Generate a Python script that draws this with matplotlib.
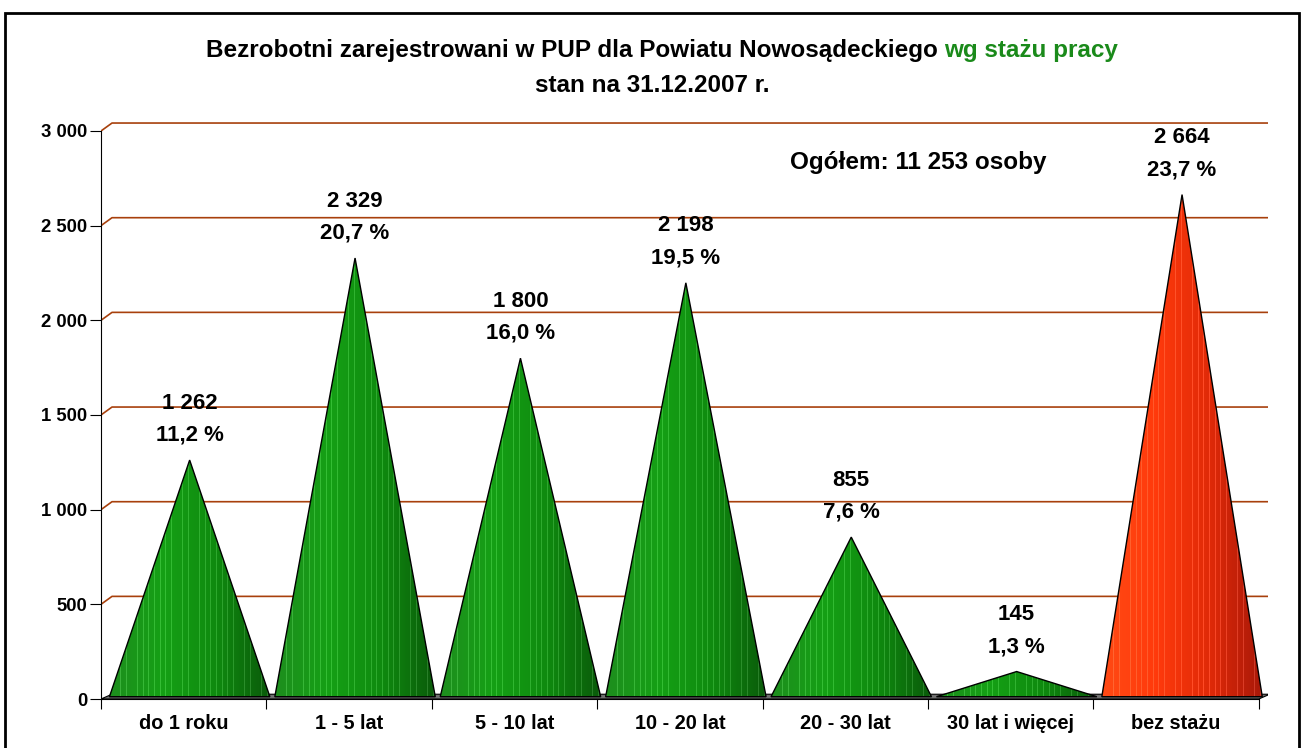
import numpy as np
import matplotlib.pyplot as plt
from matplotlib.patches import Polygon, Rectangle
from matplotlib.colors import LinearSegmentedColormap

plt.rcParams['font.family'] = ['Liberation Sans', 'DejaVu Sans']
plt.rcParams['font.weight'] = 'bold'

# dane
categories = ['do 1 roku', '1 - 5 lat', '5 - 10 lat', '10 - 20 lat',
              '20 - 30 lat', '30 lat i więcej', 'bez stażu']
values = [1262, 2329, 1800, 2198, 855, 145, 2664]
value_labels = ['1 262', '2 329', '1 800', '2 198', '855', '145', '2 664']
pct_labels = ['11,2 %', '20,7 %', '16,0 %', '19,5 %', '7,6 %', '1,3 %', '23,7 %']
yticks = [0, 500, 1000, 1500, 2000, 2500, 3000]
ytick_labels = ['0', '500', '1 000', '1 500', '2 000', '2 500', '3 000']

green = LinearSegmentedColormap.from_list('g', ['#1e8e1e', '#15a015', '#0f8a0f', '#0a5a0a'])
red = LinearSegmentedColormap.from_list('r', ['#ff4a14', '#ff3a0c', '#e02a08', '#a81808'])
cmaps = [green] * 6 + [red]

fig = plt.figure(figsize=(13.03, 7.48), dpi=100)
ax = fig.add_axes([101 / 1303, 49 / 748, 1167 / 1303, 579 / 748])
xmax = -0.5 + 1167 / 165.4
ax.set_xlim(-0.5, xmax)
ax.set_ylim(0, 3058)

# przesunięcie perspektywy 3D
dx = 11 / 165.4
dy = 42

for v in yticks[1:]:
    ax.plot([-0.5, -0.5 + dx, xmax], [v, v + dy, v + dy], color='#a8400c', lw=1.2, zorder=1)

# podłoga
floor = Polygon([(-0.5, 0), (6.5, 0), (6.5 + dx, dy * 0.6), (-0.5 + dx, dy * 0.6)],
                closed=True, facecolor='#707070', edgecolor='black', lw=0.8, zorder=2)
ax.add_patch(floor)

# stożki
s = 0.036
base = 12
for i, v in enumerate(values):
    x0, x1 = i - 0.485 + s, i + 0.485 + s
    tri = Polygon([(x0, base), (i + s, v), (x1, base)], closed=True,
                  facecolor='none', edgecolor='black', lw=1.0, zorder=4)
    ax.add_patch(tri)
    cols = np.linspace(0, 1, 200)
    img = cmaps[i](cols)[:, :3]
    stripes = (np.arange(200) % 7 == 0)
    img[stripes] = np.clip(img[stripes] + 0.12, 0, 1)
    img = np.tile(img[None, :, :], (10, 1, 1))
    im = ax.imshow(img, extent=[x0, x1, base, v], aspect='auto',
                   interpolation='nearest', zorder=3)
    im.set_clip_path(tri)
    ax.annotate(value_labels[i], (i + s, v), xytext=(0, 41), textcoords='offset points',
                ha='center', va='center', fontsize=16, fontweight='bold')
    ax.annotate(pct_labels[i], (i + s, v), xytext=(0, 18), textcoords='offset points',
                ha='center', va='center', fontsize=16, fontweight='bold')

# osie
ax.set_yticks(yticks)
ax.set_yticklabels(ytick_labels, fontsize=13.3, fontweight='bold')
ax.set_xticks(np.arange(-0.5, 7, 1))
ax.set_xticklabels([])
ax.set_xticks(np.arange(7), minor=True)
ax.set_xticklabels(categories, minor=True, fontsize=14.3, fontweight='bold')
ax.tick_params(axis='x', which='minor', length=0, pad=11)
ax.tick_params(axis='x', which='major', length=7, direction='out')
ax.tick_params(axis='y', length=8, direction='out', pad=2)
for sp in ['top', 'right']:
    ax.spines[sp].set_visible(False)
ax.spines['left'].set_bounds(0, 3000)
ax.spines['bottom'].set_bounds(-0.5, 6.5)

ax.text(4.44, 2834, 'Ogółem: 11 253 osoby', ha='center', va='center',
        fontsize=17.5, fontweight='bold')

# tytuł dwukolorowy
t1 = fig.text(0.5, 1 - 50 / 748, 'Bezrobotni zarejestrowani w PUP dla Powiatu Nowosądeckiego ',
              ha='left', va='center', fontsize=17.5, fontweight='bold')
t2 = fig.text(0.5, 1 - 50 / 748, 'wg stażu pracy', ha='left', va='center',
              fontsize=17.5, fontweight='bold', color='#1a8a1a')
fig.canvas.draw()
r = fig.canvas.get_renderer()
w1 = t1.get_window_extent(r).width
w2 = t2.get_window_extent(r).width
start = 662 - (w1 + w2) / 2
t1.set_x(start / 1303)
t2.set_x((start + w1) / 1303)
fig.text(652 / 1303, 1 - 85 / 748, 'stan na 31.12.2007 r.', ha='center', va='center',
         fontsize=17.5, fontweight='bold')

# ramka
fig.patches.append(Rectangle((5 / 1303, -0.05), 1294 / 1303, 0.05 + 735 / 748,
                             transform=fig.transFigure, fill=False, edgecolor='black', lw=2))

fig.savefig('out.png', dpi=100)
